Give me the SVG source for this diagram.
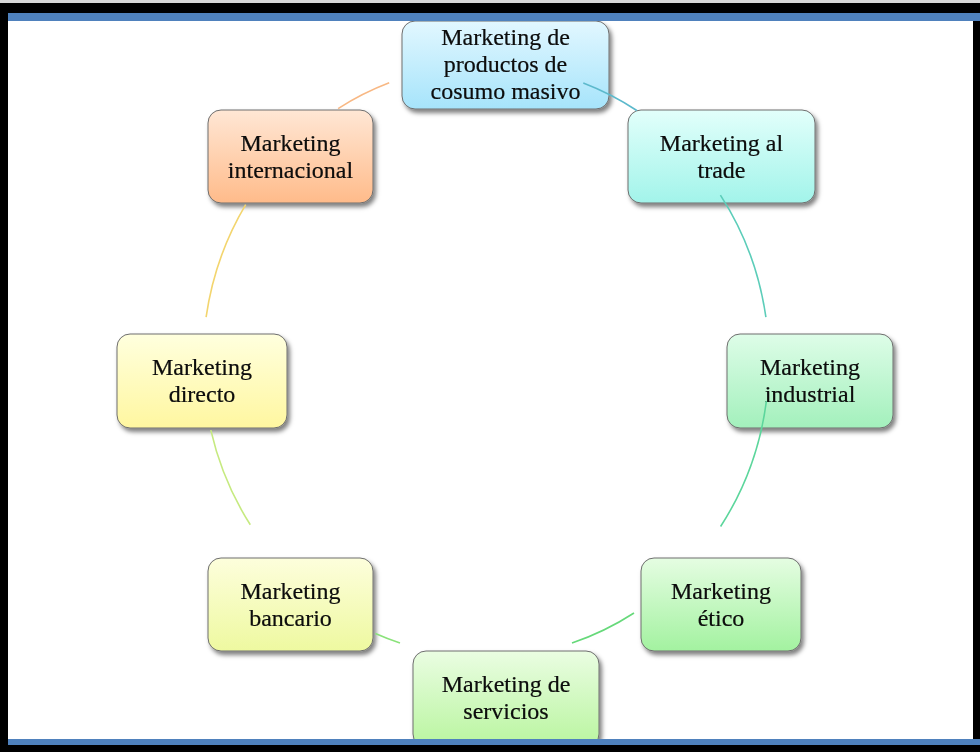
<svg xmlns="http://www.w3.org/2000/svg" width="980" height="752" viewBox="0 0 980 752">
<defs>
<style>
.box{stroke:#6e6e6e;stroke-width:1}
.t{font-family:"Liberation Serif","Times New Roman",serif;font-size:24px;fill:#0a0a0a;text-anchor:middle;stroke:#0a0a0a;stroke-width:0.2}
.arc{fill:none;stroke-width:1.6}
</style>
<filter id="sh" x="-10%" y="-10%" width="125%" height="130%">
<feDropShadow dx="2.5" dy="3.5" stdDeviation="2" flood-color="#000" flood-opacity="0.5"/>
</filter>
<linearGradient id="gBlue" x1="0" y1="0" x2="0" y2="1"><stop offset="0" stop-color="#e2f7ff"/><stop offset="1" stop-color="#a6e4fb"/></linearGradient>
<linearGradient id="gCyan" x1="0" y1="0" x2="0" y2="1"><stop offset="0" stop-color="#e2fffb"/><stop offset="1" stop-color="#a2f4ea"/></linearGradient>
<linearGradient id="gMint" x1="0" y1="0" x2="0" y2="1"><stop offset="0" stop-color="#defde8"/><stop offset="1" stop-color="#a3f0bc"/></linearGradient>
<linearGradient id="gGreen" x1="0" y1="0" x2="0" y2="1"><stop offset="0" stop-color="#e5fde2"/><stop offset="1" stop-color="#a3f2a0"/></linearGradient>
<linearGradient id="gLGreen" x1="0" y1="0" x2="0" y2="1"><stop offset="0" stop-color="#eafde2"/><stop offset="1" stop-color="#b9f59f"/></linearGradient>
<linearGradient id="gYG" x1="0" y1="0" x2="0" y2="1"><stop offset="0" stop-color="#fdfedc"/><stop offset="1" stop-color="#eef9a0"/></linearGradient>
<linearGradient id="gYel" x1="0" y1="0" x2="0" y2="1"><stop offset="0" stop-color="#ffffde"/><stop offset="1" stop-color="#fff7a0"/></linearGradient>
<linearGradient id="gOr" x1="0" y1="0" x2="0" y2="1"><stop offset="0" stop-color="#ffe7d5"/><stop offset="1" stop-color="#ffbb8a"/></linearGradient>
</defs>
<rect x="0" y="0" width="980" height="752" fill="#ffffff"/>

<g id="n-masivo" filter="url(#sh)">
<rect class="box" x="402" y="21" width="207" height="88" rx="13" fill="url(#gBlue)"/>
<text class="t" x="505.5" y="45">Marketing de</text>
<text class="t" x="505.5" y="72">productos de</text>
<text class="t" x="505.5" y="99">cosumo masivo</text>
</g>
<g id="n-trade" filter="url(#sh)">
<rect class="box" x="628" y="110" width="187" height="93" rx="13" fill="url(#gCyan)"/>
<text class="t" x="721.5" y="151">Marketing al</text>
<text class="t" x="721.5" y="178">trade</text>
</g>
<g id="n-industrial" filter="url(#sh)">
<rect class="box" x="727" y="334" width="166" height="94" rx="13" fill="url(#gMint)"/>
<text class="t" x="810" y="375">Marketing</text>
<text class="t" x="810" y="402">industrial</text>
</g>
<g id="n-etico" filter="url(#sh)">
<rect class="box" x="641" y="558" width="160" height="93" rx="13" fill="url(#gGreen)"/>
<text class="t" x="721" y="599">Marketing</text>
<text class="t" x="721" y="626">ético</text>
</g>
<g id="n-servicios" filter="url(#sh)">
<rect class="box" x="413" y="651" width="186" height="96" rx="13" fill="url(#gLGreen)"/>
<text class="t" x="506" y="692">Marketing de</text>
<text class="t" x="506" y="719">servicios</text>
</g>
<g id="n-bancario" filter="url(#sh)">
<rect class="box" x="208" y="558" width="165" height="93" rx="13" fill="url(#gYG)"/>
<text class="t" x="290.5" y="599">Marketing</text>
<text class="t" x="290.5" y="626">bancario</text>
</g>
<g id="n-directo" filter="url(#sh)">
<rect class="box" x="117" y="334" width="170" height="94" rx="13" fill="url(#gYel)"/>
<text class="t" x="202" y="375">Marketing</text>
<text class="t" x="202" y="402">directo</text>
</g>
<g id="n-internacional" filter="url(#sh)">
<rect class="box" x="208" y="110" width="165" height="93" rx="13" fill="url(#gOr)"/>
<text class="t" x="290.5" y="151">Marketing</text>
<text class="t" x="290.5" y="178">internacional</text>
</g>

<g id="connectors">
<path class="arc" stroke="#5cb9cc" d="M583.3,83 A283,296 0 0 1 636.8,110.5"/>
<path class="arc" stroke="#5ccdb9" d="M720.4,195.1 A283,296 0 0 1 765.9,317.2"/>
<path class="arc" stroke="#5cd69c" d="M766.4,401.2 A283,296 0 0 1 720.6,526.5"/>
<path class="arc" stroke="#66d97a" d="M634,613 A283,296 0 0 1 572,643"/>
<path class="arc" stroke="#8ae27a" d="M400,643 A283,296 0 0 1 375.4,633.5"/>
<path class="arc" stroke="#c6ea80" d="M250.3,524.8 A283,296 0 0 1 210.8,430.1"/>
<path class="arc" stroke="#f3d56e" d="M206.1,317.2 A283,296 0 0 1 245.7,204.6"/>
<path class="arc" stroke="#f8b884" d="M338.1,108.6 A283,296 0 0 1 389.2,82.8"/>
</g>

<g id="frame">
<rect x="0" y="0" width="980" height="3" fill="#d8d8d8"/>
<rect x="0" y="3" width="980" height="10" fill="#000000"/>
<rect x="8" y="13" width="972" height="8" fill="#4f81bd"/>
<rect x="8" y="739" width="972" height="6" fill="#4f81bd"/>
<rect x="0" y="745" width="980" height="7" fill="#000000"/>
<rect x="0" y="3" width="8" height="749" fill="#000000"/>
<rect x="973" y="21" width="7" height="718" fill="#000000"/>
</g>
</svg>
